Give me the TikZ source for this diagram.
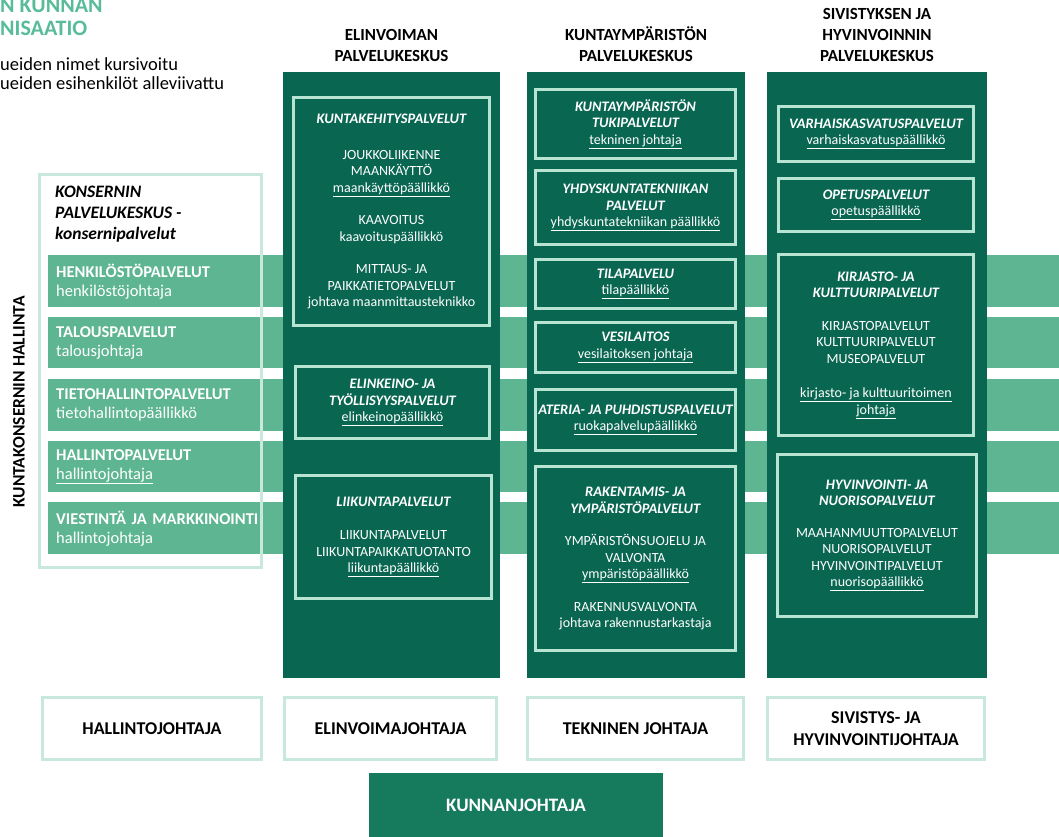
\documentclass[tikz,border=0pt]{standalone}
\usepackage{fontspec}
\setmainfont{Carlito}
\usepackage{tikz}
\usetikzlibrary{positioning}

\definecolor{dkgreen}{RGB}{9,102,81}
\definecolor{midgreen}{RGB}{93,181,146}
\definecolor{mint}{RGB}{184,228,212}
\definecolor{pale}{RGB}{201,232,221}
\definecolor{headgreen}{RGB}{88,188,153}
\definecolor{bossgreen}{RGB}{22,122,92}

\newcommand{\bodyfnt}{\fontsize{14}{16.5}\selectfont}
\newcommand{\unithead}[1]{{\fontsize{14.5}{16.5}\selectfont\bfseries\itshape #1}}

\begin{document}
\begin{tikzpicture}[x=1pt, y=-1pt,
  column/.style={rectangle, fill=dkgreen, inner sep=0pt, minimum height=606pt},
  coltitle/.style={align=center, inner sep=0pt, font=\fontsize{17}{21}\selectfont\bfseries},
  unit/.style={rectangle, draw=mint, line width=3pt, fill=dkgreen, text=white, align=center, inner sep=0pt, font=\bodyfnt},
  band/.style={rectangle, fill=midgreen, anchor=north west, inner xsep=8pt, inner ysep=0pt, text width=1000pt, align=left, text=white, font=\fontsize{16.5}{19}\selectfont},
  chief/.style={rectangle, draw=pale, line width=3pt, fill=white, align=center, minimum height=62pt, font=\fontsize{18}{22}\selectfont\bfseries}]

\useasboundingbox (0,0) rectangle (1059,837);

% Heading and legend
\node[anchor=base west, inner sep=0pt, text=headgreen, font=\fontsize{22}{23}\selectfont\bfseries] (orgtitle) at (0,13) {N KUNNAN};
\node[anchor=base west, inner sep=0pt, text=headgreen, font=\fontsize{22}{23}\selectfont\bfseries] (orgtitleb) at (0,36) {NISAATIO};
\node[anchor=base west, inner sep=0pt, font=\fontsize{18.5}{20}\selectfont] (legenda) at (0,71) {ueiden nimet kursivoitu};
\node[anchor=base west, inner sep=0pt, font=\fontsize{18.5}{20}\selectfont] (legendb) at (0,90) {ueiden esihenkilöt alleviivattu};

% Bands
\node[band, minimum height=52pt] (henk) at (48,255) {\textbf{HENKILÖSTÖPALVELUT}\\henkilöstöjohtaja};
\node[band, minimum height=51pt] (talous) at (48,317) {\textbf{TALOUSPALVELUT}\\talousjohtaja};
\node[band, minimum height=52pt] (tieto) at (48,379) {\textbf{TIETOHALLINTOPALVELUT}\\tietohallintopäällikkö};
\node[band, minimum height=51pt] (hallinto) at (48,441) {\textbf{HALLINTOPALVELUT}\\\underline{hallintojohtaja}};
\node[band, minimum height=52pt] (viestinta) at (48,502) {\textbf{VIESTINTÄ JA MARKKINOINTI}\\hallintojohtaja};

% Konserni box
\node[rectangle, draw=pale, line width=3pt, minimum width=222pt, minimum height=393pt, inner sep=0pt] (konserni) at (150.5,371) {};
\node[anchor=north west, align=left, inner sep=0pt, font=\fontsize{17.5}{21}\selectfont\bfseries\itshape] (konsernititle) at (55,186) {KONSERNIN\\PALVELUKESKUS -\\konsernipalvelut};
\node[rotate=90, inner sep=0pt, font=\fontsize{17.5}{20}\selectfont\bfseries] (hallinta) at (19,402) {KUNTAKONSERNIN HALLINTA};

% Columns
\node[column, minimum width=217pt] (elinvoima) at (391.5,375) {};
\node[column, minimum width=218pt] (ymparisto) at (636,375) {};
\node[column, minimum width=220pt] (sivistys) at (877,375) {};

\node[coltitle, above=10pt of elinvoima] (elintitle) {ELINVOIMAN\\PALVELUKESKUS};
\node[coltitle, above=10pt of ymparisto] (ymptitle) {KUNTAYMPÄRISTÖN\\PALVELUKESKUS};
\node[coltitle, above=10pt of sivistys] (sivtitle) {SIVISTYKSEN JA\\HYVINVOINNIN\\PALVELUKESKUS};

% Units: elinvoima
\node[unit, minimum width=196pt, minimum height=228pt] (kuntakehitys) at (391.5,211.5) {\unithead{KUNTAKEHITYSPALVELUT}\\[19pt]JOUKKOLIIKENNE\\MAANKÄYTTÖ\\\underline{maankäyttöpäällikkö}\\[16pt]KAAVOITUS\\kaavoituspäällikkö\\[16pt]MITTAUS- JA\\PAIKKATIETOPALVELUT\\johtava maanmittausteknikko};
\node[unit, minimum width=194pt, minimum height=72pt] (elinkeino) at (392.5,402.5) {\unithead{ELINKEINO- JA}\\\unithead{TYÖLLISYYSPALVELUT}\\\underline{elinkeinopäällikkö}};
\node[unit, minimum width=196pt, minimum height=123pt] (liikunta) at (393.5,537) {\unithead{LIIKUNTAPALVELUT}\\[17pt]LIIKUNTAPALVELUT\\LIIKUNTAPAIKKATUOTANTO\\\underline{liikuntapäällikkö}};

% Units: kuntaympäristö
\node[unit, minimum width=200pt, minimum height=69pt] (tuki) at (635.5,124) {\unithead{KUNTAYMPÄRISTÖN}\\\unithead{TUKIPALVELUT}\\\underline{tekninen johtaja}};
\node[unit, minimum width=200pt, minimum height=74pt] (yhdys) at (635.5,207.5) {\unithead{YHDYSKUNTATEKNIIKAN}\\\unithead{PALVELUT}\\\underline{yhdyskuntatekniikan päällikkö}};
\node[unit, minimum width=200pt, minimum height=49pt] (tila) at (635.5,284) {\unithead{TILAPALVELU}\\\underline{tilapäällikkö}};
\node[unit, minimum width=200pt, minimum height=50pt] (vesi) at (635.5,347.5) {\unithead{VESILAITOS}\\\underline{vesilaitoksen johtaja}};
\node[unit, minimum width=200pt, minimum height=61pt] (ateria) at (635.5,420) {\unithead{ATERIA- JA PUHDISTUSPALVELUT}\\\underline{ruokapalvelupäällikkö}};
\node[unit, minimum width=200pt, minimum height=184pt] (rakentamis) at (635.5,558.5) {\unithead{RAKENTAMIS- JA}\\\unithead{YMPÄRISTÖPALVELUT}\\[16pt]YMPÄRISTÖNSUOJELU JA\\VALVONTA\\\underline{ympäristöpäällikkö}\\[16pt]RAKENNUSVALVONTA\\johtava rakennustarkastaja};

% Units: sivistys
\node[unit, minimum width=195pt, minimum height=55pt] (varhais) at (876,134) {\unithead{VARHAISKASVATUSPALVELUT}\\\underline{varhaiskasvatuspäällikkö}};
\node[unit, minimum width=195pt, minimum height=53pt] (opetus) at (876,205) {\unithead{OPETUSPALVELUT}\\\underline{opetuspäällikkö}};
\node[unit, minimum width=195pt, minimum height=181pt] (kirjasto) at (876,345) {\unithead{KIRJASTO- JA}\\\unithead{KULTTUURIPALVELUT}\\[16pt]KIRJASTOPALVELUT\\KULTTUURIPALVELUT\\MUSEOPALVELUT\\[18pt]\underline{kirjasto- ja kulttuuritoimen}\\\underline{johtaja}};
\node[unit, minimum width=199pt, minimum height=162pt] (hyvinvointi) at (877,535.5) {\unithead{HYVINVOINTI- JA}\\\unithead{NUORISOPALVELUT}\\[15pt]MAAHANMUUTTOPALVELUT\\NUORISOPALVELUT\\HYVINVOINTIPALVELUT\\\underline{nuorisopäällikkö}};

% Directors
\node[chief, minimum width=219pt] (hallintojohtaja) at (152,728.5) {HALLINTOJOHTAJA};
\node[chief, minimum width=212pt] (elinvoimajohtaja) at (390.5,728.5) {ELINVOIMAJOHTAJA};
\node[chief, minimum width=216pt] (teknjohtaja) at (635.5,728.5) {TEKNINEN JOHTAJA};
\node[chief, minimum width=217pt] (sivjohtaja) at (876,728.5) {SIVISTYS- JA\\HYVINVOINTIJOHTAJA};
\node[rectangle, fill=bossgreen, text=white, minimum width=294pt, minimum height=64pt, font=\fontsize{19}{21}\selectfont\bfseries] (kunnanjohtaja) at (516,805) {KUNNANJOHTAJA};
\end{tikzpicture}
\end{document}
